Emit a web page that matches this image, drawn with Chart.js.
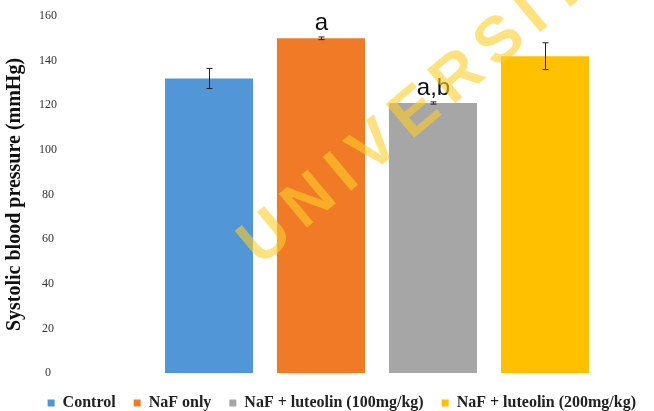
<!DOCTYPE html>
<html>
<head>
<meta charset="utf-8">
<script src="https://cdn.jsdelivr.net/npm/chart.js@4"></script>
<style>
  html, body { margin: 0; padding: 0; background: #fff; }
  #wrap { width: 654px; height: 411px; position: relative; }
</style>
</head>
<body>
<div id="wrap"><canvas id="grafico"></canvas></div>
<script>
// Datos
const grupos = ['Control', 'NaF only', 'NaF + luteolin (100mg/kg)', 'NaF + luteolin (200mg/kg)'];
const valores = [132, 150, 121, 142];
const errores = [4.5, 0.6, 0.5, 6];
const letras = ['', 'a', 'a,b', ''];
const colores = ['#5196D6', '#F07A26', '#A6A6A6', '#FFC000'];
const ticksY = [0, 20, 40, 60, 80, 100, 120, 140, 160];

// barras de error + letras de significancia
const barrasError = {
  id: 'barrasError',
  afterDatasetsDraw(chart) {
    const c = chart.ctx;
    const y = chart.scales.y;
    c.save();
    c.strokeStyle = '#222';
    c.lineWidth = 1;
    chart.data.datasets.forEach((ds, i) => {
      const bar = chart.getDatasetMeta(i).data[0];
      const x = Math.round(bar.x) + 0.5;
      const y1 = y.getPixelForValue(valores[i] + errores[i]);
      const y2 = y.getPixelForValue(valores[i] - errores[i]);
      c.beginPath();
      c.moveTo(x, y1); c.lineTo(x, y2);
      c.moveTo(x - 3, y1); c.lineTo(x + 3, y1);
      c.moveTo(x - 3, y2); c.lineTo(x + 3, y2);
      c.stroke();
      if (letras[i]) {
        c.fillStyle = '#111';
        c.font = '24px "Liberation Sans", Arial, sans-serif';
        c.textAlign = 'center';
        c.textBaseline = 'alphabetic';
        c.fillText(letras[i], x, y1 - 7);
      }
    });
    c.restore();
  }
};

// marca de agua
const marcaAgua = {
  id: 'marcaAgua',
  afterLayout(chart) {
    // bajar un poco la leyenda
    chart.legend.top += 4;
    chart.legend.bottom += 4;
  },
  afterDraw(chart) {
    const c = chart.ctx;
    c.save();
    c.translate(260, 267);
    c.rotate(-40 * Math.PI / 180);
    c.fillStyle = 'rgba(255, 205, 40, 0.6)';
    c.font = 'bold 64px "Liberation Sans", Arial, sans-serif';
    c.letterSpacing = '11px';
    c.textBaseline = 'alphabetic';
    c.fillText('UNIVERSITY', 0, 0);
    c.restore();
  }
};

const ctx = document.getElementById('grafico').getContext('2d');

new Chart(ctx, {
  type: 'bar',
  data: {
    labels: [''],
    datasets: grupos.map((g, i) => ({
      label: g,
      data: [valores[i]],
      backgroundColor: colores[i],
      borderWidth: 0
    }))
  },
  options: {
    responsive: true,
    maintainAspectRatio: false,
    animation: false,
    layout: { padding: { top: 16, right: 0, left: 0, bottom: -6 } },
    datasets: { bar: { categoryPercentage: 0.8087, barPercentage: 0.786 } },
    plugins: {
      legend: {
        position: 'bottom',
        align: 'end',
        labels: {
          boxWidth: 7,
          boxHeight: 7,
          padding: 18,
          color: '#222',
          font: { family: '"Liberation Serif", "Times New Roman", serif', size: 16, weight: 'bold' }
        }
      },
      tooltip: { enabled: false }
    },
    scales: {
      x: {
        grid: { display: false, drawTicks: false },
        border: { display: false },
        ticks: { display: false }
      },
      y: {
        min: 0,
        max: 160,
        afterBuildTicks: (s) => { s.ticks = ticksY.map(v => ({ value: v })); },
        afterFit: (s) => { s.width = 100; s.paddingTop = 0; s.paddingBottom = 0; },
        grid: { display: false, drawTicks: false },
        border: { display: false },
        ticks: {
          padding: 43,
          crossAlign: 'center',
          color: '#333',
          font: { family: '"Liberation Serif", "Times New Roman", serif', size: 12 }
        },
        title: {
          display: true,
          text: 'Systolic blood pressure (mmHg)',
          color: '#111',
          padding: { top: 3, bottom: 0 },
          font: { family: '"Liberation Serif", "Times New Roman", serif', size: 20, weight: 'bold' }
        }
      }
    }
  },
  plugins: [barrasError, marcaAgua]
});
</script>
</body>
</html>
